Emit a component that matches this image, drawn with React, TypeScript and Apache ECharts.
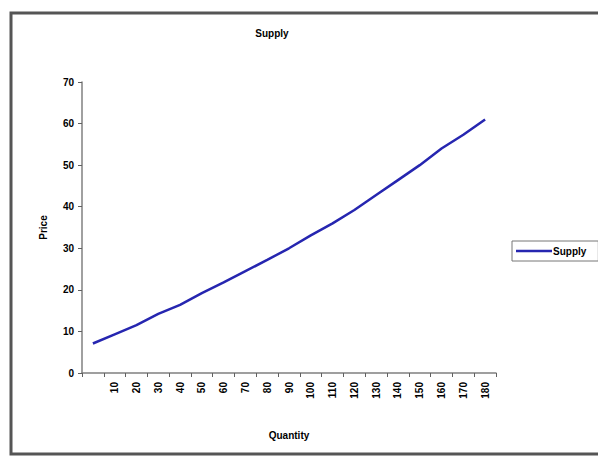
import React, { useEffect, useRef } from "react";
import * as echarts from "echarts";

// Quantity categories (first slot is unlabeled)
const quantities: string[] = ["", "10", "20", "30", "40", "50", "60", "70", "80", "90", "100", "110", "120", "130", "140", "150", "160", "170", "180"];
// Price at each quantity
const prices: number[] = [7.1, 9.3, 11.5, 14.2, 16.4, 19.2, 21.8, 24.5, 27.2, 30.0, 33.1, 36.0, 39.2, 42.8, 46.4, 50.0, 54.0, 57.3, 61.0];
const priceTicks = { min: 0, max: 70, interval: 10 };

const FONT = "Arial, 'Liberation Sans', sans-serif";
const LINE_COLOR = "#2626b0";

export default function App() {
  const ref = useRef<HTMLDivElement>(null);

  useEffect(() => {
    if (!ref.current) return;
    const chart = echarts.init(ref.current, undefined, { renderer: "svg" });
    chart.setOption({
      animation: false,
      backgroundColor: "#ffffff",
      textStyle: { fontFamily: FONT },
      graphic: [
        {
          type: "rect",
          shape: { x: 11, y: 13, width: 600, height: 441 },
          style: { fill: "none", stroke: "#555555", lineWidth: 3 },
          silent: true,
        },
        {
          type: "text",
          x: 272,
          y: 33,
          style: {
            text: "Supply",
            fontFamily: FONT,
            fontSize: 10,
            fontWeight: "bold",
            fill: "#000",
            textAlign: "center",
            textVerticalAlign: "middle",
          },
        },
      ],
      legend: {
        left: 512,
        top: 241,
        orient: "vertical",
        data: [{ name: "Supply", icon: "rect" }],
        itemWidth: 36,
        itemHeight: 2.5,
        itemGap: 0,
        padding: [5, 12, 5, 4],
        borderColor: "#777",
        borderWidth: 1,
        backgroundColor: "#fff",
        itemStyle: { color: LINE_COLOR },
        textStyle: { fontFamily: FONT, fontSize: 10, fontWeight: "bold", color: "#000", padding: [0, 0, 0, -4] },
      },
      grid: { left: 82, top: 82, right: 102, bottom: 83, containLabel: false },
      xAxis: {
        type: "category",
        data: quantities,
        boundaryGap: true,
        name: "Quantity",
        nameLocation: "middle",
        nameGap: 57,
        nameTextStyle: { fontFamily: FONT, fontSize: 10, fontWeight: "bold", color: "#000" },
        axisLine: { lineStyle: { color: "#808080", width: 1.5 } },
        axisTick: { show: true, length: 4, alignWithLabel: false, interval: 0, lineStyle: { color: "#606060" } },
        axisLabel: {
          interval: 0,
          rotate: 90,
          margin: 9,
          fontFamily: FONT,
          fontSize: 10,
          fontWeight: "bold",
          color: "#000",
        },
        splitLine: { show: false },
      },
      yAxis: {
        type: "value",
        min: priceTicks.min,
        max: priceTicks.max,
        interval: priceTicks.interval,
        name: "Price",
        nameLocation: "middle",
        nameRotate: 90,
        nameGap: 34,
        nameTextStyle: { fontFamily: FONT, fontSize: 10, fontWeight: "bold", color: "#000" },
        axisLine: { show: true, lineStyle: { color: "#808080", width: 1.5 } },
        axisTick: { show: true, length: 4, lineStyle: { color: "#606060" } },
        axisLabel: { margin: 8, fontFamily: FONT, fontSize: 10, fontWeight: "bold", color: "#000" },
        splitLine: { show: false },
      },
      series: [
        {
          name: "Supply",
          type: "line",
          data: prices,
          symbol: "none",
          lineStyle: { color: LINE_COLOR, width: 2.5 },
          itemStyle: { color: LINE_COLOR },
        },
      ],
    });
    return () => chart.dispose();
  }, []);

  return (
    <div
      ref={ref}
      style={{ position: "fixed", left: 0, top: 0, width: 598, height: 456 }}
    />
  );
}
